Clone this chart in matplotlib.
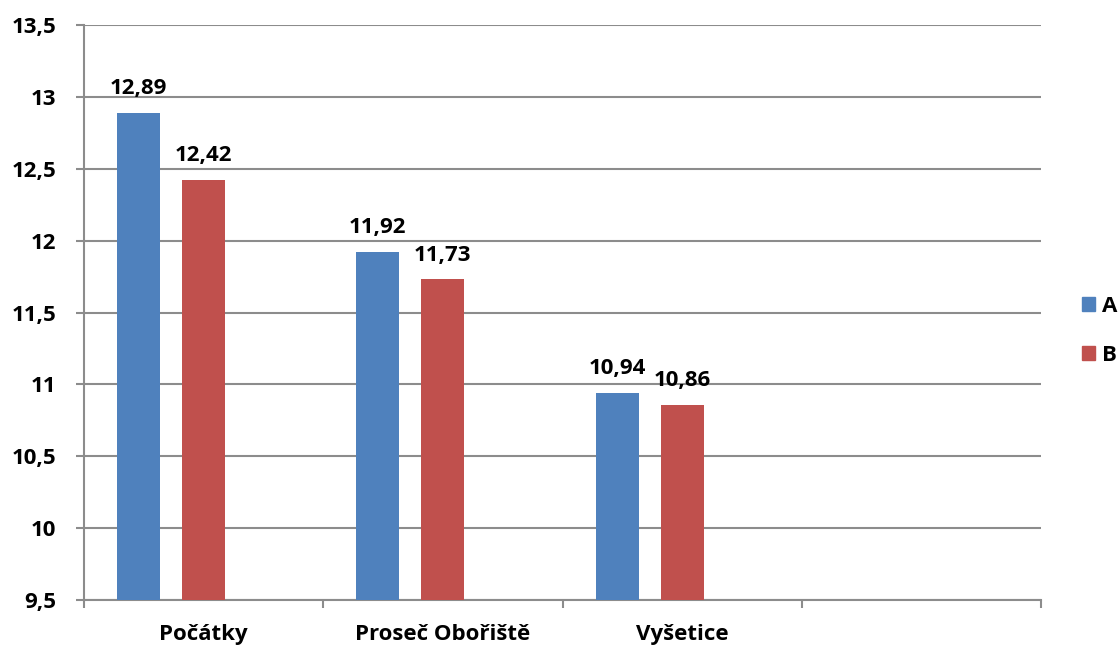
import matplotlib
matplotlib.use("Agg")
import matplotlib.pyplot as plt
from matplotlib.patches import Patch
import numpy as np

# Data
categories = ["Počátky", "Proseč Obořiště", "Vyšetice", ""]
series_names = ["A", "B"]
values_a = [12.89, 11.92, 10.94]
values_b = [12.42, 11.73, 10.86]
y_ticks = [9.5, 10, 10.5, 11, 11.5, 12, 12.5, 13, 13.5]

blue = "#4F81BD"
red = "#C0504D"
grid_col = "#8C8C8C"

plt.rcParams["font.family"] = ["Open Sans", "DejaVu Sans"]
plt.rcParams["font.weight"] = "bold"
FS = 16

fig = plt.figure(figsize=(11.2, 6.48), dpi=100)
ax = fig.add_axes([84 / 1120, 1 - 600 / 648, (1041 - 84) / 1120, (600 - 25) / 648])

width = 0.18
x = np.arange(len(values_a))
bars_a = ax.bar(x - 0.272, values_a, width, color=blue, zorder=3)
bars_b = ax.bar(x, values_b, width, color=red, zorder=3)

def fmt(v):
    return f"{v:.2f}".replace(".", ",")

for bars, vals in ((bars_a, values_a), (bars_b, values_b)):
    for b, v in zip(bars, vals):
        ax.annotate(fmt(v), (b.get_x() + b.get_width() / 2, v),
                    xytext=(0, 13.5), textcoords="offset points",
                    ha="center", va="baseline", fontsize=FS, fontweight="bold")

ax.set_ylim(9.5, 13.5)
ax.set_xlim(-0.5, len(categories) - 0.5)
ax.set_yticks(y_ticks)
ax.set_yticklabels([f"{t:g}".replace(".", ",") for t in y_ticks])
ax.yaxis.grid(True, color=grid_col, linewidth=1.5, zorder=0)

ax.set_xticks(np.arange(len(categories)))
ax.set_xticklabels(categories)
ax.set_xticks(np.arange(len(categories) + 1) - 0.5, minor=True)
ax.tick_params(axis="x", which="major", length=0, pad=17, labelsize=FS)
ax.tick_params(axis="x", which="minor", length=6, width=1.5, color=grid_col)
ax.tick_params(axis="y", length=6, width=1.5, color=grid_col, labelsize=FS, pad=14)
for lab in ax.get_xticklabels() + ax.get_yticklabels():
    lab.set_fontweight("bold")

for s in ("top", "right"):
    ax.spines[s].set_visible(False)
for s in ("left", "bottom"):
    ax.spines[s].set_color(grid_col)
    ax.spines[s].set_linewidth(1.5)

handles = [Patch(color=blue), Patch(color=red)]
fig.legend(handles, series_names, loc="center left",
           bbox_to_anchor=(1082 / 1120, 1 - 331 / 648),
           frameon=False, borderpad=0, borderaxespad=0,
           handlelength=0.6, handleheight=0.6,
           handletextpad=0.3, labelspacing=1.25,
           prop={"weight": "bold", "size": FS})

fig.savefig("out.png", dpi=100)
